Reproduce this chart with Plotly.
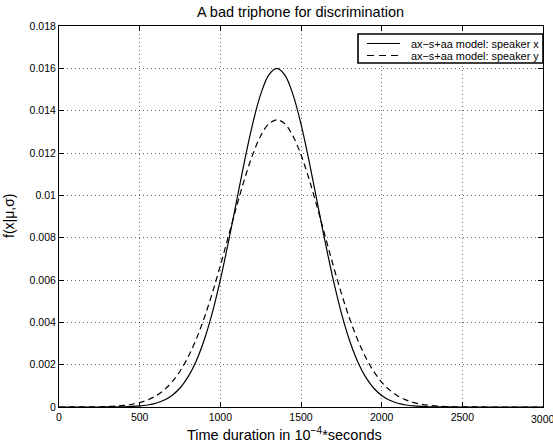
import plotly.graph_objects as go

# sample positions (10^-4 s)
x_vals = [0, 50, 100, 150, 200, 250, 300, 350, 400, 450, 500, 550, 600, 650, 700,
          750, 800, 850, 900, 950, 1000, 1050, 1100, 1150, 1200, 1250, 1300, 1350,
          1400, 1450, 1500, 1550, 1600, 1650, 1700, 1750, 1800, 1850, 1900, 1950,
          2000, 2050, 2100, 2150, 2200, 2250, 2300, 2350, 2400, 2450, 2500, 2550,
          2600, 2650, 2700, 2750, 2800, 2850, 2900, 2950, 3000]

# speaker x (solid)
speaker_x = [0, 0, 0, 0, 0, 0.000001, 0.000002, 0.000005, 0.000012, 0.000025,
             0.000049, 0.000096, 0.000178, 0.000317, 0.000545, 0.000898, 0.001423,
             0.002165, 0.003166, 0.004448, 0.006005, 0.007788, 0.009704, 0.011618,
             0.013365, 0.014770, 0.015683, 0.016000,
             0.015683, 0.014770, 0.013365, 0.011618, 0.009704, 0.007788, 0.006005,
             0.004448, 0.003166, 0.002165, 0.001423, 0.000898, 0.000545, 0.000317,
             0.000178, 0.000096, 0.000049, 0.000025, 0.000012, 0.000005, 0.000002,
             0.000001, 0, 0, 0, 0, 0, 0, 0, 0, 0, 0, 0]

# speaker y (dashed)
speaker_y = [0, 0.000001, 0.000002, 0.000003, 0.000006, 0.000012, 0.000023,
             0.000042, 0.000073, 0.000125, 0.000208, 0.000335, 0.000524, 0.000797,
             0.001178, 0.001691, 0.002358, 0.003195, 0.004206, 0.005378, 0.006681,
             0.008062, 0.009453, 0.010767, 0.011914, 0.012807, 0.013375, 0.013570,
             0.013375, 0.012807, 0.011914, 0.010767, 0.009453, 0.008062, 0.006681,
             0.005378, 0.004206, 0.003195, 0.002358, 0.001691, 0.001178, 0.000797,
             0.000524, 0.000335, 0.000208, 0.000125, 0.000073, 0.000042, 0.000023,
             0.000012, 0.000006, 0.000003, 0.000002, 0.000001, 0, 0, 0, 0, 0, 0, 0]

series_names = ["ax\u2212s+aa model: speaker x", "ax\u2212s+aa model: speaker y"]

x_ticks = [0, 500, 1000, 1500, 2000, 2500, 3000]
x_ticktext = ["0", "500", "1000", "1500", "2000", "2500", " "]
x_edge_label = "3000"
y_ticks = [0, 0.002, 0.004, 0.006, 0.008, 0.01, 0.012, 0.014, 0.016, 0.018]
y_ticktext = ["0", "0.002", "0.004", "0.006", "0.008", "0.01", "0.012", "0.014", "0.016", "0.018"]

FONT = "Liberation Sans, Arial, Helvetica, sans-serif"
W, H = 553, 446
L, R, T, B = 59, 10, 26, 39
PW, PH = W - L - R, H - T - B


def px(xp):
    return (xp - L) / PW


def py(yp):
    return (H - B - yp) / PH


fig = go.Figure()
fig.add_trace(go.Scatter(x=x_vals, y=speaker_x, mode="lines", name=series_names[0],
                         line=dict(color="black", width=1.2, shape="spline")))
fig.add_trace(go.Scatter(x=x_vals, y=speaker_y, mode="lines", name=series_names[1],
                         line=dict(color="black", width=1.2, dash="6px,4px", shape="spline")))

axis_common = dict(showline=True, linecolor="black", linewidth=1, mirror="ticks",
                   ticks="inside", ticklen=5, tickcolor="black",
                   showgrid=True, gridcolor="rgba(0,0,0,0.6)", griddash="1px,3px", gridwidth=1,
                   zeroline=False, tickfont=dict(family=FONT, size=10.5, color="black"))

fig.update_xaxes(range=[0, 3000], tickvals=x_ticks, ticktext=x_ticktext, **axis_common)
fig.update_yaxes(range=[0, 0.018], tickvals=y_ticks, ticktext=y_ticktext, **axis_common)

# manual legend (box, line samples, labels)
shapes = [
    dict(type="rect", xref="paper", yref="paper", x0=px(358), x1=px(543), y0=py(63), y1=py(34),
         line=dict(color="black", width=1.6), fillcolor="white", layer="above"),
    dict(type="line", xref="paper", yref="paper", x0=px(367), x1=px(400), y0=py(43.5), y1=py(43.5),
         line=dict(color="black", width=1.2), layer="above"),
    dict(type="line", xref="paper", yref="paper", x0=px(367), x1=px(400), y0=py(55.5), y1=py(55.5),
         line=dict(color="black", width=1.2, dash="7px,5px"), layer="above"),
]

annotations = [
    dict(text=series_names[0], xref="paper", yref="paper", x=px(541), y=py(43.5),
         xanchor="right", yanchor="middle", showarrow=False, font=dict(size=10.9, family=FONT)),
    dict(text=series_names[1], xref="paper", yref="paper", x=px(541), y=py(55.5),
         xanchor="right", yanchor="middle", showarrow=False, font=dict(size=10.9, family=FONT)),
    dict(text=x_edge_label, xref="x", yref="paper", x=3000, y=0, yshift=-4,
         xanchor="center", yanchor="top", showarrow=False, font=dict(size=10.5, family=FONT)),
    dict(text="Time duration in 10<sup>\u22124</sup>*seconds", xref="paper", yref="paper",
         x=px(284), y=py(434), xanchor="center", yanchor="middle", showarrow=False,
         font=dict(size=14.5, family=FONT)),
    dict(text="f(x|\u03bc,\u03c3)", xref="paper", yref="paper",
         x=px(9), y=py(216), xanchor="center", yanchor="middle", showarrow=False,
         textangle=-90, font=dict(size=14, family=FONT)),
]

fig.update_layout(
    width=W, height=H,
    margin=dict(l=L, r=R, t=T, b=B),
    paper_bgcolor="white", plot_bgcolor="white",
    font=dict(family=FONT, color="black"),
    title=dict(text="A bad triphone for discrimination", x=px(300.5), xref="paper", xanchor="center",
               y=1 - 12 / H, yanchor="middle", font=dict(size=14.5, family=FONT)),
    showlegend=False,
    shapes=shapes,
    annotations=annotations,
)

fig.write_html("out.html")
